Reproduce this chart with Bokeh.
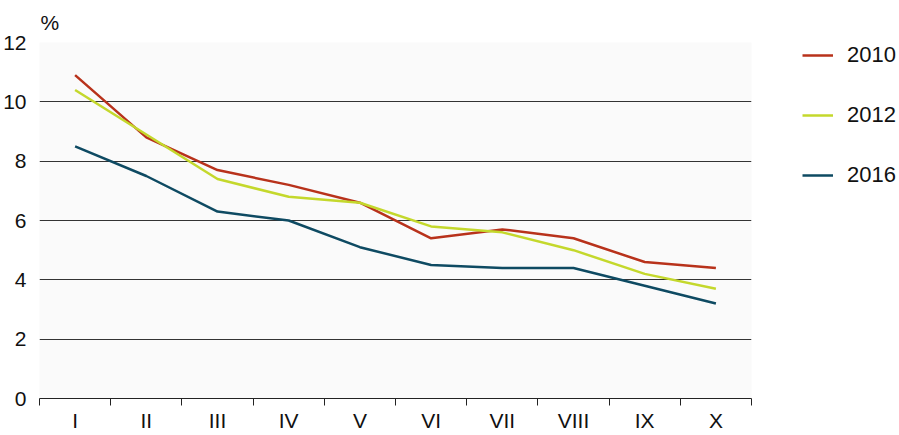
from bokeh.plotting import figure
from bokeh.models import FixedTicker, Legend, LegendItem, Range1d
from bokeh.embed import file_html
from bokeh.resources import INLINE

categories = ["I", "II", "III", "IV", "V", "VI", "VII", "VIII", "IX", "X"]
s2010 = [10.9, 8.8, 7.7, 7.2, 6.6, 5.4, 5.7, 5.4, 4.6, 4.4]
s2012 = [10.4, 8.9, 7.4, 6.8, 6.6, 5.8, 5.6, 5.0, 4.2, 3.7]
s2016 = [8.5, 7.5, 6.3, 6.0, 5.1, 4.5, 4.4, 4.4, 3.8, 3.2]
series_names = ["2010", "2012", "2016"]
colors = ["#b8321b", "#c4d82c", "#0e4a62"]
y_ticks = [0, 2, 4, 6, 8, 10, 12]

FONT = "Liberation Sans"
xs = list(range(1, len(categories) + 1))

p = figure(frame_width=712, frame_height=356,
           output_backend="svg", toolbar_location=None,
           x_range=Range1d(0.5, len(categories) + 0.5), y_range=Range1d(0, 12),
           min_border_left=32, min_border_top=34, min_border_bottom=26,
           min_border_right=139, title="%")
p.outline_line_color = None
p.background_fill_color = "#fafafa"
p.border_fill_color = "white"

p.title.align = "left"
p.title.text_font = FONT
p.title.text_font_size = "21px"
p.title.text_font_style = "normal"
p.title.text_color = "#111111"
p.title.offset = 1
p.title.standoff = 17

renderers = []
for name, vals, c in zip(series_names, [s2010, s2012, s2016], colors):
    r = p.line(xs, vals, line_color=c, line_width=2.5)
    renderers.append((name, r))

# x axis
p.xaxis.ticker = FixedTicker(ticks=xs, minor_ticks=[x - 0.5 for x in xs] + [len(xs) + 0.5])
p.xaxis.major_label_overrides = {x: c for x, c in zip(xs, categories)}
p.xaxis.major_tick_out = 0
p.xaxis.major_tick_in = 0
p.xaxis.minor_tick_out = 7
p.xaxis.minor_tick_in = 0
p.xaxis.minor_tick_line_color = "#222222"
p.xaxis.axis_line_color = "#222222"
p.xaxis.major_label_text_font = FONT
p.xaxis.major_label_text_font_size = "21px"
p.xaxis.major_label_text_color = "#111111"
p.xaxis.major_label_standoff = 3
p.xgrid.grid_line_color = None

# y axis
p.yaxis.ticker = FixedTicker(ticks=y_ticks)
p.yaxis.axis_line_color = None
p.yaxis.major_tick_line_color = None
p.yaxis.minor_tick_line_color = None
p.yaxis.major_label_text_font = FONT
p.yaxis.major_label_text_font_size = "21px"
p.yaxis.major_label_text_color = "#111111"
p.yaxis.major_label_standoff = 7
p.ygrid.grid_line_color = "#333333"
p.ygrid.grid_line_width = 1

legend = Legend(items=[LegendItem(label=n, renderers=[r]) for n, r in renderers],
                orientation="vertical")
legend.label_text_font = FONT
legend.label_text_font_size = "22px"
legend.label_text_color = "#111111"
legend.glyph_width = 31
legend.glyph_height = 20
legend.label_height = 20
legend.spacing = 34
legend.label_standoff = 14
legend.border_line_color = None
legend.background_fill_alpha = 0
legend.padding = 0
legend.margin = 0
legend.location = (51, 210)
p.add_layout(legend, "right")

open("out.html", "w").write(file_html(p, INLINE))
